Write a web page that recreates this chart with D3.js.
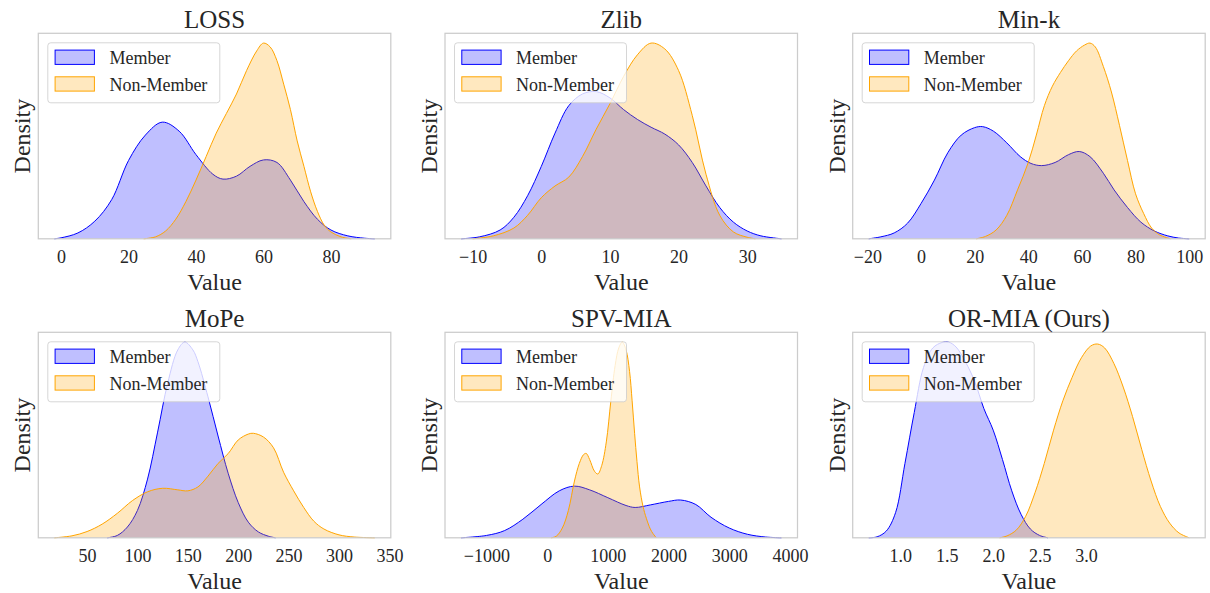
<!DOCTYPE html>
<html>
<head>
<meta charset="utf-8">
<script src="https://cdn.jsdelivr.net/npm/d3@7"></script>
<style>
  html, body { margin: 0; padding: 0; background: #ffffff; }
  svg { display: block; }
</style>
</head>
<body>
<svg id="chart" width="1210" height="593"></svg>
<script>
// ---------------- DATA (density curves, [value, relative density]) ----------------
const panelTitles = ["LOSS", "Zlib", "Min-k", "MoPe", "SPV-MIA", "OR-MIA (Ours)"];
const seriesNames = ["Member", "Non-Member"];

const lossMember = [[-2,0],[0,0.005],[5,0.03],[10,0.09],[15,0.2],[20,0.4],[25,0.53],[30,0.596],[35,0.55],[40,0.43],[45,0.33],[48,0.305],[52,0.32],[56,0.37],[60,0.403],[64,0.39],[68,0.3],[72,0.19],[76,0.1],[80,0.045],[85,0.015],[90,0.003],[93,0]];
const lossNonMember = [[24.5,0],[28,0.01],[31,0.04],[34,0.1],[37,0.19],[40,0.3],[43,0.42],[46,0.54],[49,0.64],[52,0.74],[55,0.86],[58,0.96],[60,1.0],[62,0.98],[64,0.91],[66,0.79],[68,0.66],[70,0.5],[72,0.37],[74,0.24],[76,0.14],[78,0.07],[80,0.035],[83,0.01],[86,0]];

const zlibMember = [[-11.7,0],[-9,0.01],[-6,0.045],[-4,0.11],[-2,0.22],[0,0.37],[2,0.54],[4,0.68],[6,0.74],[8,0.752],[10,0.72],[12,0.66],[14,0.61],[16,0.57],[18,0.535],[20,0.48],[22,0.39],[24,0.27],[26,0.16],[28,0.085],[30,0.04],[32,0.015],[35,0]];
const zlibNonMember = [[-10,0],[-7,0.015],[-4,0.055],[-2,0.12],[0,0.21],[2,0.27],[4,0.315],[6,0.42],[8,0.56],[10,0.69],[12,0.83],[14,0.94],[16,1.0],[18,0.97],[20,0.86],[22,0.63],[24,0.33],[26,0.12],[28,0.035],[30,0.008],[31.2,0]];

const minkMember = [[-19.5,0],[-15,0.01],[-10,0.03],[-5,0.08],[0,0.18],[5,0.3],[10,0.44],[15,0.53],[20,0.568],[23,0.573],[27,0.55],[32,0.49],[37,0.42],[41,0.385],[45,0.374],[50,0.39],[55,0.43],[59,0.446],[63,0.42],[68,0.335],[72,0.25],[77,0.16],[82,0.085],[87,0.04],[92,0.015],[96,0.004],[100,0]];
const minkNonMember = [[20.6,0],[24,0.012],[28,0.045],[32,0.12],[36,0.25],[40,0.39],[43,0.53],[46,0.68],[49,0.78],[52,0.85],[55,0.91],[58,0.96],[61,0.99],[63,1.0],[65,0.98],[68,0.88],[71,0.75],[74,0.58],[77,0.4],[80,0.23],[83,0.13],[86,0.055],[89,0.02],[93,0]];

const mopeMember = [[70,0],[80,0.012],[90,0.055],[100,0.14],[110,0.3],[120,0.54],[130,0.79],[140,0.96],[147,1.0],[155,0.96],[160,0.9],[170,0.72],[180,0.52],[190,0.33],[200,0.18],[210,0.08],[220,0.03],[230,0.008],[237,0]];
const mopeNonMember = [[17.5,0],[35,0.01],[50,0.032],[65,0.07],[80,0.125],[95,0.19],[110,0.235],[125,0.253],[140,0.245],[150,0.24],[160,0.26],[170,0.315],[180,0.38],[190,0.43],[200,0.5],[210,0.53],[215,0.534],[225,0.515],[235,0.46],[245,0.335],[255,0.24],[265,0.155],[275,0.085],[285,0.045],[300,0.015],[315,0.004],[335.5,0]];

const spvMember = [[-1419,0],[-1000,0.012],[-700,0.037],[-400,0.095],[-100,0.17],[200,0.24],[450,0.264],[700,0.245],[1000,0.205],[1300,0.165],[1450,0.155],[1700,0.168],[2000,0.186],[2200,0.193],[2450,0.17],[2700,0.105],[3000,0.05],[3300,0.018],[3600,0.004],[3861,0]];
const spvNonMember = [[66,0],[150,0.008],[250,0.05],[350,0.14],[450,0.29],[530,0.38],[600,0.425],[644,0.431],[700,0.4],[780,0.34],[835,0.326],[900,0.37],[975,0.49],[1050,0.7],[1120,0.88],[1180,0.97],[1238,1.0],[1300,0.96],[1358,0.85],[1400,0.7],[1441,0.534],[1480,0.39],[1523,0.26],[1580,0.16],[1634,0.1],[1700,0.045],[1743,0.022],[1799,0]];

const ormiaMember = [[0.66,0],[0.75,0.005],[0.85,0.035],[0.95,0.13],[1.05,0.38],[1.15,0.64],[1.25,0.87],[1.35,0.97],[1.45,0.998],[1.52,1.0],[1.6,0.975],[1.7,0.9],[1.8,0.8],[1.9,0.66],[2.0,0.55],[2.1,0.4],[2.2,0.24],[2.3,0.12],[2.4,0.045],[2.5,0.012],[2.59,0]];
const ormiaNonMember = [[2.07,0],[2.15,0.01],[2.25,0.04],[2.35,0.11],[2.45,0.23],[2.55,0.38],[2.65,0.55],[2.75,0.7],[2.85,0.82],[2.95,0.92],[3.05,0.98],[3.125,0.99],[3.2,0.97],[3.3,0.89],[3.4,0.77],[3.5,0.62],[3.6,0.45],[3.7,0.29],[3.8,0.16],[3.9,0.075],[4.0,0.025],[4.11,0]];

const lossTicks = [0, 20, 40, 60, 80];
const zlibTicks = [-10, 0, 10, 20, 30];
const minkTicks = [-20, 0, 20, 40, 60, 80, 100];
const mopeTicks = [50, 100, 150, 200, 250, 300, 350];
const spvTicks = [-1000, 0, 1000, 2000, 3000, 4000];
const ormiaTicks = [1.0, 1.5, 2.0, 2.5, 3.0];

// ---------------- LAYOUT ----------------
const panels = [
  { title: panelTitles[0], member: lossMember,  nonMember: lossNonMember,  ticks: lossTicks,  fmt: d3.format("d") },
  { title: panelTitles[1], member: zlibMember,  nonMember: zlibNonMember,  ticks: zlibTicks,  fmt: d3.format("d") },
  { title: panelTitles[2], member: minkMember,  nonMember: minkNonMember,  ticks: minkTicks,  fmt: d3.format("d") },
  { title: panelTitles[3], member: mopeMember,  nonMember: mopeNonMember,  ticks: mopeTicks,  fmt: d3.format("d") },
  { title: panelTitles[4], member: spvMember,   nonMember: spvNonMember,   ticks: spvTicks,   fmt: d3.format("d") },
  { title: panelTitles[5], member: ormiaMember, nonMember: ormiaNonMember, ticks: ormiaTicks, fmt: d3.format(".1f") }
];

const colLefts = [38.3, 445, 852.7];
const rowTops = [33.3, 332.3];
const pw = 352.5, ph = 205.5;
const FONT = "'Liberation Serif', 'Times New Roman', serif";
const TEXT = "#262626";
const colors = { member: "#0000ff", nonMember: "#ffa500" };

const svg = d3.select("#chart");

panels.forEach((p, i) => {
  const x0 = colLefts[i % 3], y0 = rowTops[Math.floor(i / 3)];
  const g = svg.append("g").attr("transform", `translate(${x0},${y0})`);

  const all = p.member.concat(p.nonMember);
  const [xmin, xmax] = d3.extent(all, d => d[0]);
  const pad = (xmax - xmin) * 0.05;
  const x = d3.scaleLinear().domain([xmin - pad, xmax + pad]).range([0, pw]);
  const ymax = d3.max(all, d => d[1]);
  const y = d3.scaleLinear().domain([0, ymax * 1.05]).range([ph, 0]);

  const curve = d3.curveCatmullRom.alpha(0.5);
  const area = d3.area().x(d => x(d[0])).y0(y(0)).y1(d => y(d[1])).curve(curve);
  const line = d3.line().x(d => x(d[0])).y(d => y(d[1])).curve(curve);

  [["member", p.member], ["nonMember", p.nonMember]].forEach(([k, data]) => {
    g.append("path").datum(data).attr("d", area)
      .attr("fill", colors[k]).attr("fill-opacity", 0.25).attr("stroke", "none");
    g.append("path").datum(data).attr("d", line)
      .attr("fill", "none").attr("stroke", colors[k]).attr("stroke-width", 1);
  });

  // frame
  g.append("rect").attr("x", 0).attr("y", 0).attr("width", pw).attr("height", ph)
    .attr("fill", "none").attr("stroke", "#cccccc").attr("stroke-width", 1.25);

  // x axis
  const ax = g.append("g").attr("transform", `translate(0,${ph})`)
    .call(d3.axisBottom(x).tickValues(p.ticks).tickFormat(p.fmt).tickSize(0).tickPadding(11.7));
  ax.select(".domain").remove();
  ax.selectAll("text").attr("font-family", FONT).attr("font-size", 18).attr("fill", TEXT);

  // labels
  g.append("text").attr("x", pw / 2).attr("y", ph + 51).attr("text-anchor", "middle")
    .attr("font-family", FONT).attr("font-size", 24).attr("fill", TEXT).text("Value");
  g.append("text").attr("transform", `translate(-8,${ph / 2}) rotate(-90)`).attr("text-anchor", "middle")
    .attr("font-family", FONT).attr("font-size", 24).attr("fill", TEXT).text("Density");
  g.append("text").attr("x", pw / 2).attr("y", -5).attr("text-anchor", "middle")
    .attr("font-family", FONT).attr("font-size", 25).attr("fill", TEXT).text(p.title);

  // legend
  const lg = g.append("g").attr("transform", "translate(9.5,9.5)");
  lg.append("rect").attr("width", 172).attr("height", 60).attr("rx", 3)
    .attr("fill", "#ffffff").attr("fill-opacity", 0.8)
    .attr("stroke", "#cccccc").attr("stroke-opacity", 0.8).attr("stroke-width", 1);
  ["member", "nonMember"].forEach((k, j) => {
    lg.append("rect").attr("x", 7.3).attr("y", 7.3 + j * 26.7).attr("width", 39.3).attr("height", 14.3)
      .attr("fill", colors[k]).attr("fill-opacity", 0.25).attr("stroke", colors[k]).attr("stroke-width", 1);
    lg.append("text").attr("x", 61.6).attr("y", 21.3 + j * 26.7)
      .attr("font-family", FONT).attr("font-size", 18).attr("fill", TEXT).text(seriesNames[j]);
  });
});
</script>
</body>
</html>
